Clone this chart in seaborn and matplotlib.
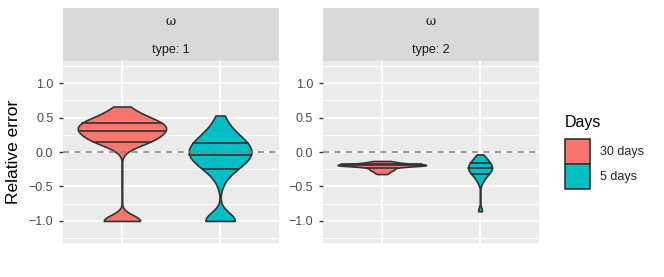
import numpy as np
import pandas as pd
import matplotlib
matplotlib.use("Agg")
import matplotlib.pyplot as plt
import seaborn as sns

# Categories
days_order = ["30 days", "5 days"]
day_colors = ["#F8766D", "#00BFC4"]
type_labels = ["type: 1", "type: 2"]

# Relative error samples
type1_30 = [-1.0, -1.0, -1.0, -1.0, -1.0, -1.0, -0.99, -0.98,
            0.05, 0.09, 0.12, 0.14,
            0.15, 0.16, 0.17, 0.18, 0.20, 0.21, 0.22, 0.24, 0.25, 0.26, 0.27, 0.28, 0.295,
            0.305, 0.31, 0.32, 0.33, 0.34, 0.35, 0.36, 0.37, 0.38, 0.39, 0.40, 0.415,
            0.425, 0.43, 0.44, 0.45, 0.46, 0.47, 0.49, 0.51, 0.53, 0.55, 0.58, 0.62, 0.66]
type1_5 = [-1.0, -1.0, -1.0, -1.0, -1.0, -1.0, -0.99, -0.98, -0.96,
           -0.45, -0.36, -0.29,
           -0.245, -0.235, -0.22, -0.20, -0.18, -0.16, -0.14, -0.12, -0.10, -0.09, -0.07, -0.06, -0.045,
           -0.035, -0.02, -0.01, 0.0, 0.01, 0.02, 0.04, 0.05, 0.07, 0.09, 0.11, 0.125,
           0.135, 0.15, 0.17, 0.18, 0.20, 0.22, 0.24, 0.27, 0.30, 0.34, 0.39, 0.45, 0.53]
type2_30 = [-0.32, -0.31, -0.30, -0.29, -0.28, -0.27, -0.265, -0.26, -0.255, -0.25,
            -0.24, -0.235, -0.23, -0.225, -0.22, -0.215, -0.21, -0.205, -0.205,
            -0.20, -0.20, -0.20, -0.195, -0.195, -0.195, -0.195, -0.19, -0.19, -0.19, -0.19, -0.19,
            -0.185, -0.185, -0.185, -0.185, -0.18, -0.18, -0.18, -0.175, -0.175, -0.17, -0.17,
            -0.165, -0.16, -0.155, -0.15, -0.145, -0.14, -0.135, -0.13]
type2_5 = [-0.86, -0.85, -0.84,
           -0.46, -0.43, -0.41, -0.39, -0.37, -0.36, -0.35, -0.34, -0.33,
           -0.32, -0.31, -0.30, -0.295, -0.29, -0.28, -0.275, -0.27, -0.26, -0.255, -0.25, -0.245, -0.24,
           -0.235, -0.23, -0.225, -0.22, -0.21, -0.205, -0.20, -0.19, -0.185, -0.18, -0.17, -0.165,
           -0.16, -0.155, -0.15, -0.14, -0.13, -0.12, -0.11, -0.10, -0.09, -0.08, -0.065, -0.05, -0.035]

# Long table for seaborn
rows = []
for t, d, vals in [(1, "30 days", type1_30), (1, "5 days", type1_5),
                   (2, "30 days", type2_30), (2, "5 days", type2_5)]:
    for v in vals:
        rows.append({"type": t, "Days": d, "error": v})
df = pd.DataFrame(rows)


def nrd0(kde):
    # R's default bandwidth (bw.nrd0), returned as a factor of the sd
    d = kde.dataset.ravel()
    sd = d.std(ddof=1)
    q1, q3 = np.percentile(d, [25, 75])
    h = 0.9 * min(sd, (q3 - q1) / 1.34) * len(d) ** -0.2
    return h / sd


sns.set_theme(style="darkgrid", rc={"axes.facecolor": "#EBEBEB", "grid.color": "white"})
plt.rcParams["font.family"] = ["Liberation Sans", "DejaVu Sans"]

fig = plt.figure(figsize=(6.64, 2.77), dpi=100)
fig.patch.set_facecolor("white")
panels = [fig.add_axes([0.0949, 0.1227, 0.3253, 0.657]),
          fig.add_axes([0.4864, 0.1227, 0.3253, 0.657])]

for i, ax in enumerate(panels):
    sub = df[df["type"] == i + 1]
    sns.violinplot(data=sub, x="Days", y="error", hue="Days", order=days_order, hue_order=days_order,
                   palette=day_colors, saturation=1, inner="quart", cut=0, bw_method=nrd0,
                   density_norm="area", common_norm=True, width=0.9, linewidth=1.2,
                   linecolor="#333333", legend=(i == 0), ax=ax)
    for ln in ax.lines:
        ln.set_linestyle("-")  # ggplot draws quantiles as solid lines
    ax.axhline(0, color="#808080", linewidth=1.1, linestyle=(0, (4, 3.5)))
    ax.set_xlim(-0.6, 1.6)
    ax.set_ylim(-1.32, 1.32)
    ax.set_yticks([-1, -0.5, 0, 0.5, 1])
    ax.set_yticklabels(["\u22121.0", "\u22120.5", "0.0", "0.5", "1.0"])
    ax.set_yticks([-1.25, -0.75, -0.25, 0.25, 0.75, 1.25], minor=True)
    ax.grid(which="major", color="white", linewidth=1.4)
    ax.grid(which="minor", color="white", linewidth=0.7)
    ax.tick_params(axis="x", length=0, labelbottom=False)
    ax.tick_params(axis="y", which="major", left=True, length=3, width=1, color="#333333",
                   labelcolor="#4D4D4D", labelsize=9, pad=4)
    ax.tick_params(axis="y", which="minor", length=0)
    ax.set_xlabel("")
    ax.set_ylabel("")
    for s in ax.spines.values():
        s.set_visible(False)

    # facet strips: two stacked labels
    pos = ax.get_position()
    strip_top = fig.add_axes([pos.x0, 0.877, pos.width, 0.0939])
    strip_bot = fig.add_axes([pos.x0, 0.7798, pos.width, 0.0975])
    for s, txt, fam, ty in [(strip_top, "\u03c9", "DejaVu Serif", 0.5),
                            (strip_bot, type_labels[i], "Liberation Sans", 0.42)]:
        s.set_facecolor("#D9D9D9")
        s.set_xticks([])
        s.set_yticks([])
        s.grid(False)
        for sp in s.spines.values():
            sp.set_visible(False)
        s.text(0.5, ty, txt, ha="center", va="center", fontsize=9, color="#1A1A1A",
               family=fam, transform=s.transAxes)

# legend moved to the right of the panels
leg = panels[0].get_legend()
handles = leg.legend_handles
labels = [t.get_text() for t in leg.get_texts()]
leg.remove()
for h in handles:
    h.set_edgecolor("#333333")
    h.set_linewidth(1.2)
fig.legend(handles, labels, loc="upper left", bbox_to_anchor=(565 / 664, 1 - 139 / 277),
           frameon=False, fontsize=9, handlelength=2.0, handleheight=2.7,
           labelspacing=0.0, handletextpad=0.8, borderpad=0, borderaxespad=0)
fig.text(565 / 664, 1 - 122 / 277, "Days", ha="left", va="center", fontsize=11.5, color="black")

fig.text(14 / 664, 1 - 152 / 277, "Relative error", rotation=90, ha="center", va="center",
         fontsize=12.5, color="black")

fig.savefig("out.png", dpi=100)
